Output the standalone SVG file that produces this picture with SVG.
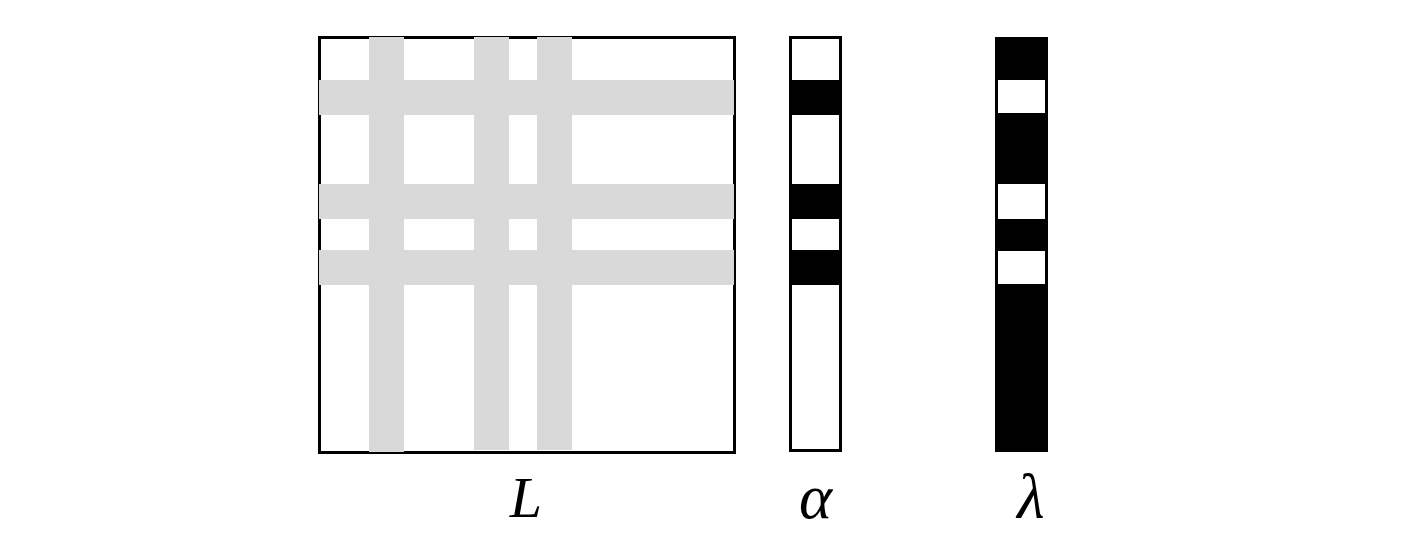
<svg xmlns="http://www.w3.org/2000/svg" width="1425" height="556" viewBox="0 0 1425 556">
<style>
.frame{fill:none;stroke:#000;stroke-width:3}
.gray{fill:#d9d9d9}
.blk{fill:#000}
.wht{fill:#fff}
.lbl{font-family:"Liberation Serif","DejaVu Serif",serif;font-style:italic;font-size:58px;text-anchor:middle;fill:#000}
.gk{font-size:63px}
</style>
<rect width="1425" height="556" fill="#fff"/>
<g id="L">
<rect class="frame" x="319.5" y="37.5" width="415" height="415"/>
<rect class="gray" x="319" y="80" width="415" height="35"/>
<rect class="gray" x="319" y="184" width="415" height="35"/>
<rect class="gray" x="319" y="250" width="415" height="35"/>
<rect class="gray" x="369" y="37" width="35" height="415"/>
<rect class="gray" x="474" y="37" width="35" height="413"/>
<rect class="gray" x="537" y="37" width="35" height="413"/>
<text class="lbl" x="526" y="517">L</text>
</g>
<g id="alpha">
<rect class="frame" x="790.5" y="37.5" width="50" height="413"/>
<rect class="blk" x="789" y="80" width="53" height="35"/>
<rect class="blk" x="789" y="184" width="53" height="35"/>
<rect class="blk" x="789" y="250" width="53" height="35"/>
<text class="lbl gk" x="815.5" y="518">α</text>
</g>
<g id="lambda">
<rect class="blk" x="995" y="37" width="53" height="415"/>
<rect class="wht" x="998" y="80" width="47" height="33"/>
<rect class="wht" x="998" y="184" width="47" height="35"/>
<rect class="wht" x="998" y="251" width="47" height="33"/>
<text class="lbl gk" x="1031" y="518">λ</text>
</g>
<g id="connectors"/>
</svg>
